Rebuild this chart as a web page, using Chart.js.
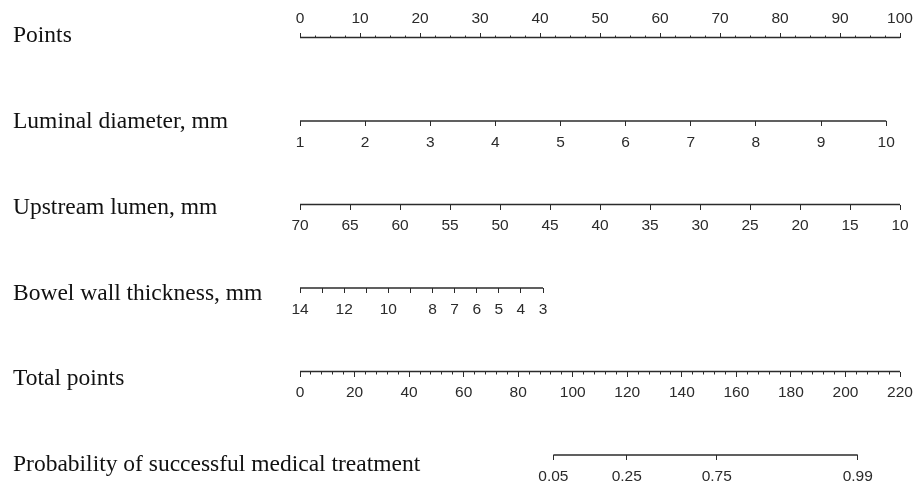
<!DOCTYPE html>
<html><head><meta charset="utf-8">
<script src="https://cdn.jsdelivr.net/npm/chart.js@4.4.1/dist/chart.umd.min.js"></script>
<style>html,body{margin:0;padding:0;background:#fff}</style>
</head><body>
<canvas id="c" width="924" height="482"></canvas>
<script>
// ---- data ----
const rowLabels = ['Points', 'Luminal diameter, mm', 'Upstream lumen, mm', 'Bowel wall thickness, mm', 'Total points', 'Probability of successful medical treatment'];
const pointsTicks = [0, 10, 20, 30, 40, 50, 60, 70, 80, 90, 100];
const pointsMinorStep = 2.5;
const luminalTicks = [1, 2, 3, 4, 5, 6, 7, 8, 9, 10];
const luminalPointsAtMax = 97.7;      // points given to 10 mm
const upstreamTicks = [70, 65, 60, 55, 50, 45, 40, 35, 30, 25, 20, 15, 10];
const upstreamPointsAtMin = 100;      // points given to 10 mm
const bowelTicks = [14, 13, 12, 11, 10, 9, 8, 7, 6, 5, 4, 3];
const bowelLabels = ['14', '', '12', '', '10', '', '8', '7', '6', '5', '4', '3'];
const bowelPointsAtMin = 40.5;        // points given to 3 mm
const totalTicks = [0, 20, 40, 60, 80, 100, 120, 140, 160, 180, 200, 220];
const totalMinorStep = 4;
const probLabels = ['0.05', '0.25', '0.75', '0.99'];
const probTotalPoints = [92.9, 119.8, 152.8, 204.5];

// ---- helpers ----
function range(a, b, s) { const r = []; for (let v = a; v <= b + 1e-9; v += s) r.push(+v.toFixed(4)); return r; }
const INK = '#2b2b2b';
const SANS = "'Liberation Sans', Arial, sans-serif";
function xAxis(row, min, max, ticks, labels, o = {}) {
  return {
    type: 'linear', axis: 'x', position: { y: row }, min, max, reverse: !!o.reverse,
    afterBuildTicks: s => { s.ticks = ticks.map(v => ({ value: v })); },
    grid: { display: true, drawOnChartArea: false, drawTicks: true, tickLength: o.tl ?? 5, tickColor: INK, tickWidth: 1 },
    border: { display: false },
    ticks: {
      display: !!labels, autoSkip: false, maxRotation: 0, minRotation: 0,
      padding: o.pad ?? 7, color: INK, font: { family: SANS, size: 15.5 },
      callback: (v, i) => labels ? labels[i] : ''
    }
  };
}
function lineDs(axisId, row, a, b) {
  return { xAxisID: axisId, yAxisID: 'y', data: [{ x: a, y: row }, { x: b, y: row }],
    showLine: true, pointRadius: 0, borderColor: INK, borderWidth: 1.3, clip: false };
}

const lumMax = luminalTicks[0] + (luminalTicks[luminalTicks.length - 1] - luminalTicks[0]) * 100 / luminalPointsAtMax;
const upLo = upstreamTicks[upstreamTicks.length - 1], upHi = upstreamTicks[0];
const bwHi = bowelTicks[0], bwLo3 = bowelTicks[bowelTicks.length - 1];
const bwMin = bwHi - (bwHi - bwLo3) * 100 / bowelPointsAtMin;
const totMax = totalTicks[totalTicks.length - 1];

new Chart(document.getElementById('c'), {
  type: 'scatter',
  data: {
    datasets: [
      lineDs('xPts', 0, pointsTicks[0], pointsTicks[pointsTicks.length - 1]),
      lineDs('xLum', 1, luminalTicks[0], luminalTicks[luminalTicks.length - 1]),
      lineDs('xUp', 2, upHi, upLo),
      lineDs('xBw', 3, bwHi, bwLo3),
      lineDs('xTot', 4, totalTicks[0], totMax),
      lineDs('xProb', 5, probTotalPoints[0], probTotalPoints[probTotalPoints.length - 1])
    ]
  },
  options: {
    responsive: false, animation: false, devicePixelRatio: 1, events: [],
    layout: { padding: { left: 300, right: 24, top: 37.5, bottom: 27 } },
    plugins: { legend: { display: false }, tooltip: { enabled: false } },
    scales: {
      y: { type: 'linear', axis: 'y', display: false, min: 0, max: 5, reverse: true },
      yLab: {
        type: 'linear', axis: 'y', position: 'left', min: 0.0175, max: 4.8835, reverse: true,
        afterBuildTicks: s => { s.ticks = rowLabels.map((_, i) => ({ value: i })); },
        afterFit: s => { s.width = 0; },
        grid: { display: false, drawTicks: false }, border: { display: false },
        ticks: { mirror: true, crossAlign: 'near', padding: -287, autoSkip: false, color: '#111',
          font: { family: "'Liberation Serif', 'Times New Roman', serif", size: 23.5 },
          callback: (v, i) => rowLabels[i] }
      },
      xPts: xAxis(0, 0, 100, pointsTicks, pointsTicks.map(String), { tl: -5, pad: -23.5 }),
      xPtsM: xAxis(0, 0, 100, range(0, 100, pointsMinorStep), null, { tl: -2.5 }),
      xLum: xAxis(1, luminalTicks[0], lumMax, luminalTicks, luminalTicks.map(String)),
      xUp: xAxis(2, upLo, upHi, upstreamTicks, upstreamTicks.map(String), { reverse: true }),
      xBw: xAxis(3, bwMin, bwHi, bowelTicks, bowelLabels, { reverse: true }),
      xTot: xAxis(4, 0, totMax, totalTicks, totalTicks.map(String)),
      xTotM: xAxis(4, 0, totMax, range(0, totMax, totalMinorStep), null, { tl: 2.5 }),
      xProb: xAxis(5, 0, totMax, probTotalPoints, probLabels)
    }
  }
});
</script>
</body></html>
